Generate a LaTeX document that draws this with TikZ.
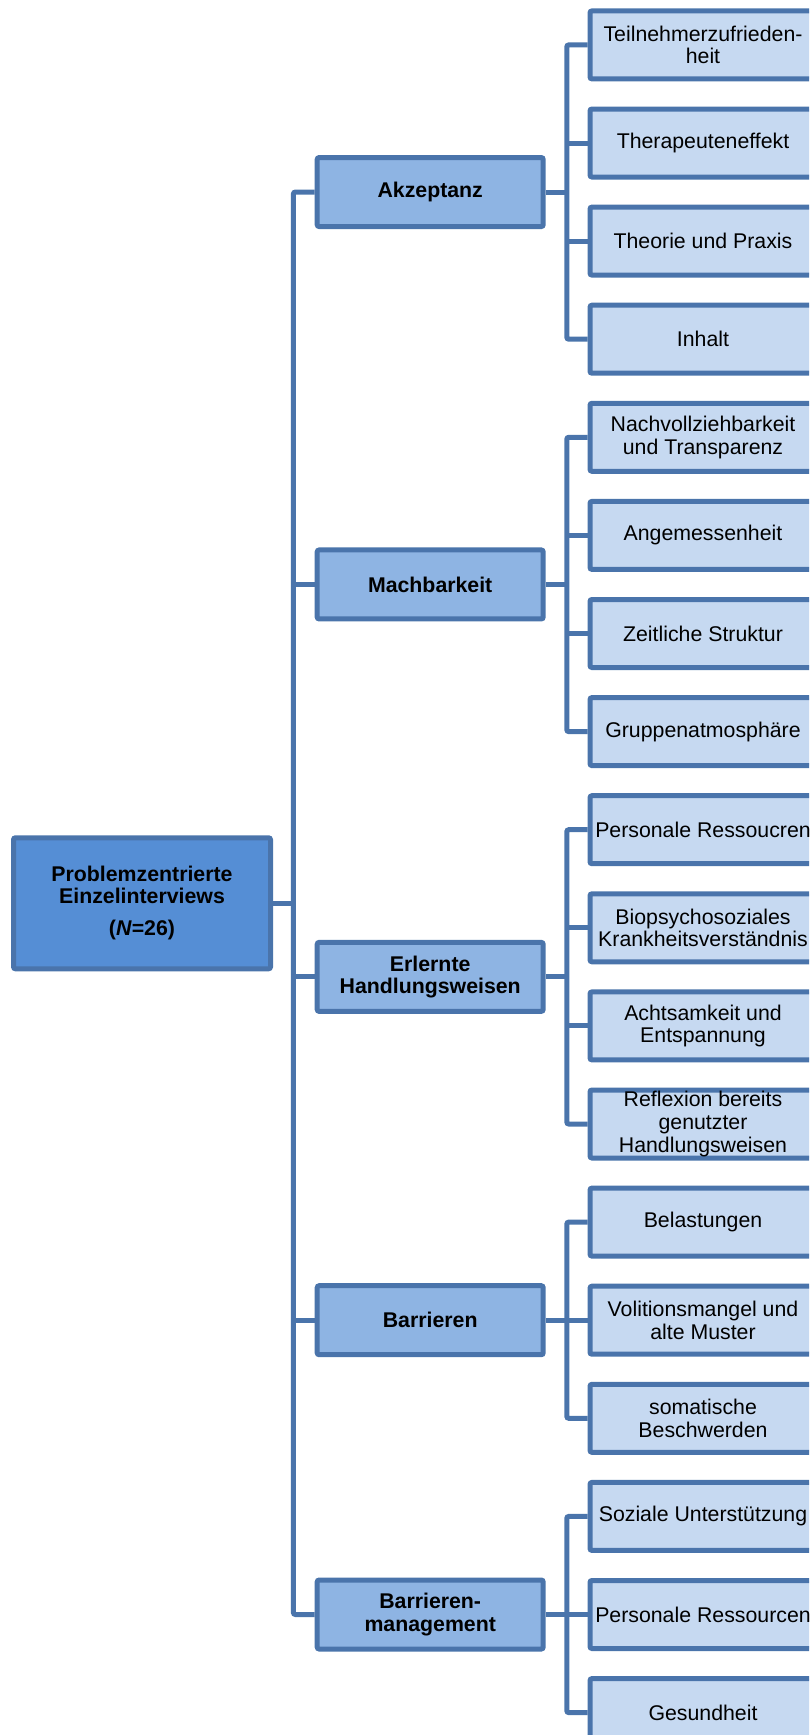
\documentclass[tikz,border=0pt]{standalone}
\usepackage{fontspec}
\setmainfont{Liberation Sans}
\usetikzlibrary{calc}
\definecolor{edge}{HTML}{4A74AB}
\definecolor{rootfill}{HTML}{558ED5}
\definecolor{midfill}{HTML}{8EB4E3}
\definecolor{leaffill}{HTML}{C6D9F1}
\begin{document}
\begin{tikzpicture}[x=1pt,y=-1pt,
  txt/.style={font=\fontsize{21.3}{22.6}\selectfont},
  box/.style={draw=edge, line width=5pt, rounded corners=2pt, inner sep=0pt,
    align=center, txt},
  rootbox/.style={box, fill=rootfill, minimum width=257pt, minimum height=131pt,
    font=\fontsize{21.3}{22}\selectfont\bfseries},
  midbox/.style={box, fill=midfill, minimum width=226pt, minimum height=69pt,
    font=\fontsize{21.3}{22.6}\selectfont\bfseries},
  leafbox/.style={box, fill=leaffill, minimum width=226pt, minimum height=68pt},
  conn/.style={draw=edge, line width=5pt, rounded corners=2pt}]
\clip (0,0) rectangle (809,1735);

% trunk and branch x positions
\coordinate (tx) at (293.4,0);
\coordinate (bx) at (566.8,0);

% leaves
\foreach \i/\t in {
  0/{Teilnehmerzufrieden-\\heit},
  1/{Therapeuteneffekt},
  2/{Theorie und Praxis},
  3/{Inhalt},
  4/{Nachvollziehbarkeit\\und Transparenz},
  5/{Angemessenheit},
  6/{Zeitliche Struktur},
  7/{Gruppenatmosphäre},
  8/{Personale Ressoucren},
  9/{Biopsychosoziales\\Krankheitsverständnis},
  10/{Achtsamkeit und\\Entspannung},
  11/{Reflexion bereits\\genutzter\\Handlungsweisen},
  12/{Belastungen},
  13/{Volitionsmangel und\\alte Muster},
  14/{somatische\\Beschwerden},
  15/{Soziale Unterstützung},
  16/{Personale Ressourcen},
  17/{Gesundheit}}
  \node[leafbox] (c\i) at (703,{44.9+98.1*\i}) {\t};

% categories
\node[midbox] (m1) at (430.2,{44.9+98.1*1.5}) {Akzeptanz};
\node[midbox] (m2) at (430.2,{44.9+98.1*5.5}) {Machbarkeit};
\node[midbox] (m3) at (430.2,{44.9+98.1*9.5}) {Erlernte\\Handlungsweisen};
\node[midbox] (m4) at (430.2,{44.9+98.1*13}) {Barrieren};
\node[midbox] (m5) at (430.2,{44.9+98.1*16}) {Barrieren-\\management};

% root
\node[rootbox] (root) at (142,{44.9+98.1*8.75}) {Problemzentrierte\\Einzelinterviews\\[10pt](\textbf{\textit{N}}=26)};

% trunk
\draw[conn] (root.east) -- (root.east -| tx);
\draw[conn] (m1.west) -- (m1.west -| tx) -- (m5.west -| tx) -- (m5.west);
\foreach \m in {2,3,4} \draw[conn] (m\m.west -| tx) -- (m\m.west);

% branches
\foreach \m/\a/\b in {1/0/3, 2/4/7, 3/8/11, 4/12/14, 5/15/17} {
  \draw[conn] (m\m.east) -- (m\m.east -| bx);
  \draw[conn] (c\a.west) -- (c\a.west -| bx) -- (c\b.west -| bx) -- (c\b.west);
}
\foreach \k in {1,2,5,6,9,10,13,16} \draw[conn] (c\k.west -| bx) -- (c\k.west);
\end{tikzpicture}
\end{document}
